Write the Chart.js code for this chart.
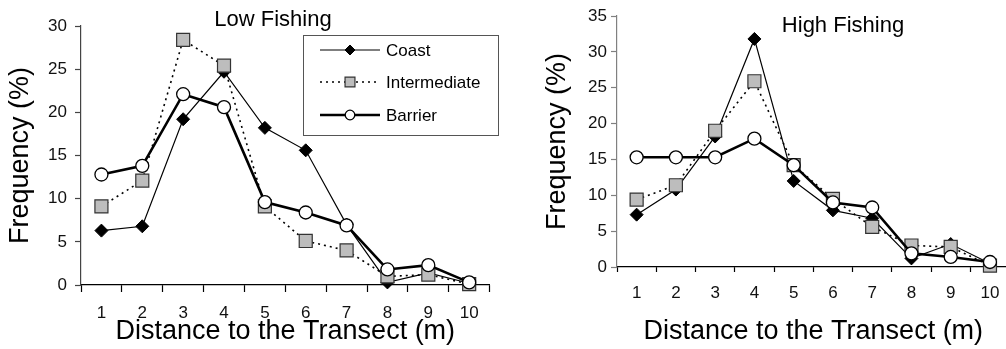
<!DOCTYPE html>
<html><head><meta charset="utf-8">
<script src="https://cdn.jsdelivr.net/npm/chart.js"></script>
<style>
html,body{margin:0;padding:0;background:#fff;overflow:hidden;width:1006px;height:349px;}
#wrapL{position:absolute;left:0;top:0;width:500px;height:349px;}
#wrapR{position:absolute;left:506px;top:0;width:514px;height:349px;}
canvas{display:block;}
</style></head><body>
<div id="wrapL"><canvas id="cL" width="500" height="349"></canvas></div>
<div id="wrapR"><canvas id="cR" width="514" height="349"></canvas></div>
<script>
// ---- data ----
const categories = ['1','2','3','4','5','6','7','8','9','10'];
const seriesNames = ['Coast','Intermediate','Barrier'];
const lowCoast        = [6.3, 6.8, 19.2, 24.7, 18.2, 15.6, 7.0, 0.3, 1.4, 0.2];
const lowIntermediate = [9.1, 12.1, 28.4, 25.4, 9.1, 5.1, 4.0, 1.0, 1.2, 0.1];
const lowBarrier      = [12.8, 13.8, 22.1, 20.6, 9.6, 8.4, 6.9, 1.8, 2.3, 0.3];
const highCoast        = [7.3, 10.8, 18.2, 31.8, 12.0, 7.9, 6.8, 1.2, 3.2, 0.5];
const highIntermediate = [9.4, 11.4, 19.0, 25.9, 14.2, 9.5, 5.6, 3.0, 2.8, 0.2];
const highBarrier      = [15.3, 15.3, 15.3, 17.9, 14.2, 9.0, 8.3, 1.9, 1.4, 0.7];
const lowYTicks  = [0, 5, 10, 15, 20, 25, 30];
const highYTicks = [0, 5, 10, 15, 20, 25, 30, 35];
const xTitle = 'Distance to the Transect (m)';
const yTitle = 'Frequency (%)';
const lowTitle = 'Low Fishing';
const highTitle = 'High Fishing';

// ---- styles ----
const FONT = "'Liberation Sans', Arial, sans-serif";
Chart.defaults.font.family = FONT;
Chart.defaults.color = '#000';
const seriesStyle = {
  Coast: {borderColor:'#000', borderWidth:1.2, borderDash:[], pointStyle:'rectRot', pointRadius:6.5,
          pointBackgroundColor:'#000', pointBorderColor:'#000', pointBorderWidth:1, order:2,
          lg:{r:5}},
  Intermediate: {borderColor:'#000', borderWidth:1.6, borderDash:[2,4], pointStyle:'rect', pointRadius:9.2,
          pointBackgroundColor:'#bdbdbd', pointBorderColor:'#333', pointBorderWidth:1.2, order:1,
          lg:{r:7}},
  Barrier: {borderColor:'#000', borderWidth:2.6, borderDash:[], pointStyle:'circle', pointRadius:6.5,
          pointBackgroundColor:'#fff', pointBorderColor:'#000', pointBorderWidth:1.3, order:0,
          lg:{r:4.8}}
};

function buildDatasets(values){
  return seriesNames.map((name,i)=>{
    const s = seriesStyle[name];
    return {label:name, data:values[i], borderColor:s.borderColor, borderWidth:s.borderWidth,
      borderDash:s.borderDash, pointStyle:s.pointStyle, pointRadius:s.pointRadius,
      pointBackgroundColor:s.pointBackgroundColor, pointBorderColor:s.pointBorderColor,
      pointBorderWidth:s.pointBorderWidth, order:s.order, tension:0, fill:false, clip:false};
  });
}

function drawMarker(ctx, style, x, y, r){
  ctx.beginPath();
  if(style==='rectRot'){ ctx.moveTo(x-r,y); ctx.lineTo(x,y-r); ctx.lineTo(x+r,y); ctx.lineTo(x,y+r); ctx.closePath(); }
  else if(style==='rect'){ const h=r*Math.SQRT1_2; ctx.rect(x-h,y-h,2*h,2*h); }
  else { ctx.arc(x,y,r,0,Math.PI*2); }
  ctx.fill(); ctx.stroke();
}

const overlayPlugin = {
  id:'overlay',
  afterDraw(chart, args, opts){
    const ctx = chart.ctx;
    ctx.save();
    ctx.fillStyle='#000';
    ctx.font = opts.titleSize+'px '+FONT;
    ctx.textAlign='center'; ctx.textBaseline='middle';
    ctx.fillText(opts.title, opts.titleX, opts.titleY);
    if(opts.legend){
      const L = opts.legend;
      ctx.fillStyle='#fff'; ctx.strokeStyle='#555'; ctx.lineWidth=1;
      ctx.fillRect(L.x, L.y, L.w, L.h);
      ctx.strokeRect(L.x+0.5, L.y+0.5, L.w, L.h);
      seriesNames.forEach((name,i)=>{
        const s = seriesStyle[name];
        const yy = L.rowY[i];
        ctx.setLineDash(s.borderDash); ctx.strokeStyle=s.borderColor; ctx.lineWidth=s.borderWidth;
        ctx.beginPath(); ctx.moveTo(L.lineX0, yy); ctx.lineTo(L.lineX1, yy); ctx.stroke();
        ctx.setLineDash([]);
        ctx.fillStyle=s.pointBackgroundColor; ctx.strokeStyle=s.pointBorderColor; ctx.lineWidth=s.pointBorderWidth;
        drawMarker(ctx, s.pointStyle, (L.lineX0+L.lineX1)/2, yy, s.lg.r);
        ctx.fillStyle='#000'; ctx.font=L.fontSize+'px '+FONT; ctx.textAlign='left'; ctx.textBaseline='middle';
        ctx.fillText(name, L.textX, yy+1);
      });
    }
    ctx.restore();
  }
};

function makeChart(id, values, yTicks, cfg){
  return new Chart(document.getElementById(id), {
    type:'line',
    data:{labels:categories, datasets:buildDatasets(values)},
    plugins:[overlayPlugin],
    options:{
      responsive:false, animation:false, events:[],
      layout:{padding:cfg.padding},
      plugins:{legend:{display:false}, tooltip:{enabled:false}, overlay:cfg.overlay},
      scales:{
        x:{type:'category', offset:true,
          grid:{offset:true, drawOnChartArea:false, drawTicks:true, tickLength:cfg.xTickLen, color:'#000', tickColor:'#000', tickWidth:1.2},
          border:{display:true, color:'#000', width:1.2},
          ticks:{padding:cfg.xTickPad, font:{size:17}, color:'#111', maxRotation:0},
          title:{display:true, text:xTitle, font:{size:27}, color:'#000', padding:{top:0,bottom:1}},
          afterFit(s){ s.height = cfg.xHeight; }
        },
        y:{min:yTicks[0], max:yTicks[yTicks.length-1],
          grid:{drawOnChartArea:false, drawTicks:true, tickLength:6, color:cfg.yColor, tickColor:cfg.yColor, tickWidth:1.2},
          border:{display:true, color:cfg.yColor, width:1.2},
          ticks:{stepSize:yTicks[1]-yTicks[0], padding:cfg.yTickPad, font:{size:17}, color:'#111'},
          title:{display:true, text:yTitle, font:{size:27}, color:'#000', padding:{top:cfg.yTitlePad, bottom:0}},
          afterFit(s){ s.width = cfg.yWidth; }
        }
      }
    }
  });
}

makeChart('cL', [lowCoast, lowIntermediate, lowBarrier], lowYTicks, {
  padding:{left:0, top:26, right:10, bottom:0},
  xHeight:64, yWidth:81, xTickLen:7, xTickPad:11, yTickPad:8, yColor:'#444', yTitlePad:4,
  overlay:{title:lowTitle, titleSize:22, titleX:273, titleY:20,
    legend:{x:303, y:35, w:195, h:100, rowY:[50,82,115], lineX0:320, lineX1:380, textX:386, fontSize:17}}
});
makeChart('cR', [highCoast, highIntermediate, highBarrier], highYTicks, {
  padding:{left:0, top:16, right:9, bottom:0},
  xHeight:82, yWidth:111, xTickLen:5, xTickPad:11, yTickPad:4, yColor:'#808080', yTitlePad:35,
  overlay:{title:highTitle, titleSize:22, titleX:843-506, titleY:26, legend:null}
});
</script>
</body></html>
